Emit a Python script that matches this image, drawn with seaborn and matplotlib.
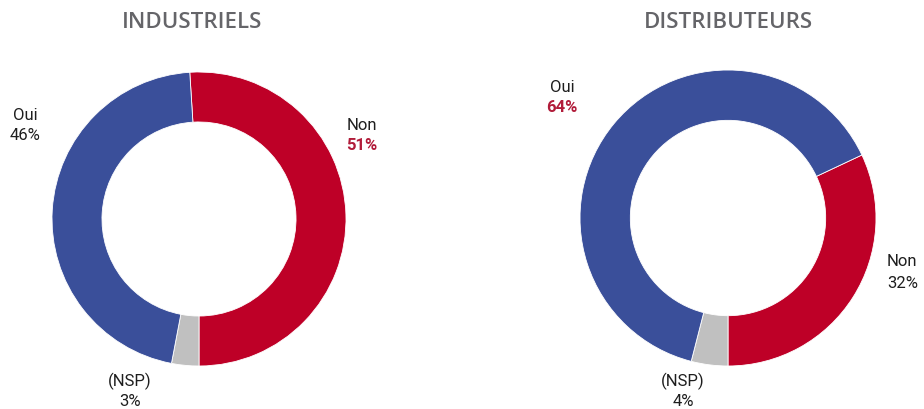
import matplotlib
matplotlib.use("Agg")
import matplotlib.pyplot as plt
import seaborn as sns

sns.set_theme(style="white")
plt.rcParams["font.family"] = ["Roboto", "DejaVu Sans"]

# Survey answers per group (order drawn clockwise: Non, NSP, Oui)
categories = ["Non", "(NSP)", "Oui"]
industriels = [51, 3, 46]
distributeurs = [32, 4, 64]
titles = ["INDUSTRIELS", "DISTRIBUTEURS"]

colors = ["#BE0027", "#C0C0C0", "#3A4F9A"]
text_color = "#1E1E1E"
accent = "#B11C3A"
title_color = "#656569"

W, H = 924, 409
fig = plt.figure(figsize=(W / 100, H / 100), dpi=100)
fig.patch.set_facecolor("white")


def px(x, y):
    return x / W, 1 - y / H


def donut(rect, values):
    ax = fig.add_axes(rect)
    total = sum(values)
    # Put the end of the "Non" segment at the bottom of the ring
    start = 90 + (values[0] / total * 360 - 180)
    ax.pie(values, colors=colors, startangle=start, counterclock=False,
           radius=1.0, wedgeprops=dict(width=0.34, edgecolor="white", linewidth=0.6))
    ax.set_xlim(-1, 1)
    ax.set_ylim(-1, 1)
    ax.set_aspect("equal")
    ax.axis("off")
    return ax


donut([52 / W, 43 / H, 294 / W, 294 / H], industriels)
donut([580 / W, 43 / H, 296 / W, 296 / H], distributeurs)

# Titles
for (x, y), t in zip([(192, 22), (728, 22)], titles):
    fig.text(*px(x, y), t, ha="center", va="center", fontsize=16,
             color=title_color, fontweight="semibold", family=["Open Sans", "DejaVu Sans"])


def label(x, y, name, value, highlight=False, ha="center"):
    fig.text(*px(x, y), name, ha=ha, va="center", fontsize=12, color=text_color)
    fig.text(*px(x, y + 21), f"{value}%", ha=ha, va="center", fontsize=12,
             color=accent if highlight else text_color,
             fontweight="bold" if highlight else "normal")


# INDUSTRIELS labels
label(25, 115, categories[2], industriels[2])
label(362, 125, categories[0], industriels[0], highlight=True)
label(130, 381, categories[1], industriels[1])

# DISTRIBUTEURS labels
label(562, 87, categories[2], distributeurs[2], highlight=True)
label(887, 262, categories[0], distributeurs[0], ha="left")
label(683, 381, categories[1], distributeurs[1])

fig.savefig("out.png", dpi=100, facecolor="white")
